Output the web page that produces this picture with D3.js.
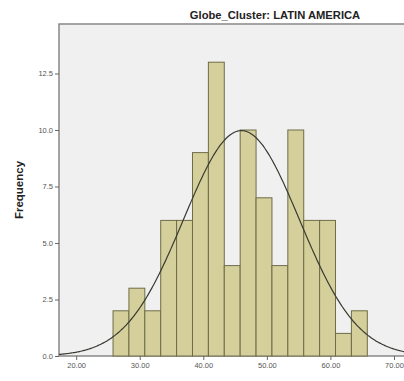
<!DOCTYPE html>
<html>
<head>
<meta charset="utf-8">
<script src="https://cdn.jsdelivr.net/npm/d3@7"></script>
<style>
  body { margin: 0; background: #fff; }
  svg { display: block; font-family: "Liberation Sans", Arial, sans-serif; }
</style>
</head>
<body>
<svg id="chart" width="404" height="381"></svg>
<script>
// Histogram bins (lower edge of first bin, bin width) and counts
const binStart = 25.8;
const binWidth = 2.5;
const counts = [2, 3, 2, 6, 6, 9, 13, 4, 10, 7, 4, 10, 6, 6, 1, 2];

// Fitted normal curve parameters
const fitMean = 46.0;
const fitSd = 9.1;

const xTicks = [20, 30, 40, 50, 60, 70];
const yTicks = [0, 2.5, 5, 7.5, 10, 12.5];
const title = "Globe_Cluster: LATIN AMERICA";
const yLabel = "Frequency";

const svg = d3.select("#chart");
const plot = { left: 59, top: 24, right: 410, bottom: 356 };

const x = d3.scaleLinear().domain([17.3, 70]).range([plot.left, 394]);
const y = d3.scaleLinear().domain([0, 1]).range([plot.bottom, plot.bottom - 22.6]);

// Plot background and frame
svg.append("rect")
  .attr("x", plot.left).attr("y", plot.top)
  .attr("width", plot.right - plot.left).attr("height", plot.bottom - plot.top)
  .attr("fill", "#f0f0f0").attr("stroke", "#808080").attr("stroke-width", 1.4);

// Bars
const bins = counts.map((c, i) => ({ x0: binStart + i * binWidth, x1: binStart + (i + 1) * binWidth, n: c }));
svg.append("g").selectAll("rect").data(bins).join("rect")
  .attr("x", d => x(d.x0))
  .attr("y", d => y(d.n))
  .attr("width", d => x(d.x1) - x(d.x0))
  .attr("height", d => y(0) - y(d.n))
  .attr("fill", "#d5d09b")
  .attr("stroke", "#6e6c48")
  .attr("stroke-width", 1);

// Normal curve scaled to counts
const total = d3.sum(counts);
const curveData = d3.range(x.invert(plot.left), 75, 0.2).map(v => ({
  v,
  f: total * binWidth / (fitSd * Math.sqrt(2 * Math.PI)) * Math.exp(-0.5 * ((v - fitMean) / fitSd) ** 2)
}));
svg.append("path")
  .datum(curveData)
  .attr("fill", "none")
  .attr("stroke", "#3a3a34")
  .attr("stroke-width", 1.2)
  .attr("d", d3.line().x(d => x(d.v)).y(d => y(d.f)).curve(d3.curveBasis));

// Axes
const yAxis = d3.axisLeft(y).tickValues(yTicks).tickFormat(d3.format(".1f")).tickSize(4).tickPadding(2);
const gy = svg.append("g").attr("transform", `translate(${plot.left},0)`).call(yAxis);
gy.select(".domain").remove();
gy.selectAll("line").attr("stroke", "#666");
gy.selectAll("text").attr("font-size", 7.5).attr("fill", "#555");

const xAxis = d3.axisBottom(x).tickValues(xTicks).tickFormat(d3.format(".2f")).tickSize(4).tickPadding(3);
const gx = svg.append("g").attr("transform", `translate(0,${plot.bottom})`).call(xAxis);
gx.select(".domain").remove();
gx.selectAll("line").attr("stroke", "#666");
gx.selectAll("text").attr("font-size", 7.5).attr("fill", "#555");

// Title and axis label
svg.append("text")
  .attr("x", 275).attr("y", 18.5)
  .attr("text-anchor", "middle")
  .attr("font-size", 11.2).attr("font-weight", "bold").attr("fill", "#222")
  .text(title);

svg.append("text")
  .attr("transform", "translate(23,190) rotate(-90)")
  .attr("text-anchor", "middle")
  .attr("font-size", 11.5).attr("font-weight", "bold").attr("fill", "#222")
  .text(yLabel);
</script>
</body>
</html>
